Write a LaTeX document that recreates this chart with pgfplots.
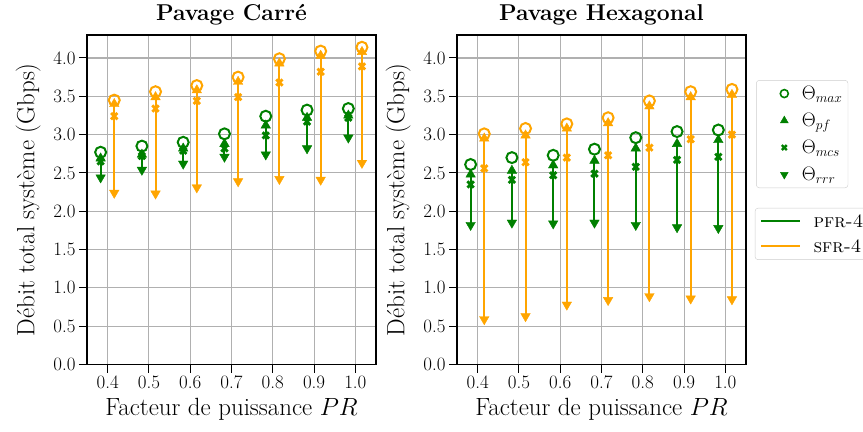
\documentclass[border=0pt]{standalone}
\usepackage{fix-cm}
\usepackage{pgfplots}
\pgfplotsset{compat=1.18}
\usepackage{pgfplotstable}
\definecolor{mgreen}{HTML}{008000}
\definecolor{morange}{HTML}{FFA500}
\definecolor{mgrid}{HTML}{B0B0B0}

\pgfplotstableread{
x   gmax gpf  gmcs grrr omax opf  omcs orrr
0.4 2.77 2.69 2.65 2.44 3.45 3.40 3.24 2.24
0.5 2.85 2.74 2.72 2.54 3.56 3.49 3.34 2.23
0.6 2.90 2.82 2.79 2.62 3.64 3.58 3.44 2.31
0.7 3.01 2.88 2.82 2.71 3.75 3.69 3.49 2.39
0.8 3.24 3.12 2.99 2.74 3.99 3.93 3.68 2.42
0.9 3.32 3.22 3.17 2.82 4.09 4.03 3.82 2.41
1.0 3.34 3.25 3.22 2.96 4.14 4.08 3.89 2.63
}\carre

\pgfplotstableread{
x   gmax gpf  gmcs grrr omax opf  omcs orrr
0.4 2.61 2.48 2.35 1.82 3.01 2.95 2.56 0.59
0.5 2.70 2.53 2.41 1.85 3.08 2.99 2.64 0.63
0.6 2.73 2.60 2.47 1.84 3.14 3.08 2.70 0.78
0.7 2.81 2.66 2.49 1.85 3.22 3.15 2.73 0.84
0.8 2.96 2.82 2.58 1.82 3.44 3.37 2.83 0.89
0.9 3.04 2.88 2.67 1.79 3.56 3.49 2.94 0.86
1.0 3.06 2.93 2.71 1.78 3.59 3.52 3.00 0.85
}\hexa

\pgfplotsset{
  mystyle/.style={
    scale only axis, width=289bp, height=329.5bp,
    xmin=0.35, xmax=1.05, ymin=0, ymax=4.3,
    xtick={0.4,0.5,0.6,0.7,0.8,0.9,1.0},
    xticklabels={0.4,0.5,0.6,0.7,0.8,0.9,1.0},
    ytick={0,0.5,1,1.5,2,2.5,3,3.5,4},
    yticklabels={0.0,0.5,1.0,1.5,2.0,2.5,3.0,3.5,4.0},
    xtick pos=bottom, ytick pos=left,
    grid=major, major grid style={mgrid, line width=1.1bp},
    tick align=outside, major tick length=8bp,
    tick style={black, line width=1bp},
    axis line style={line width=1.2bp},
    ticklabel style={font=\fontsize{19}{22}\selectfont},
    label style={font=\fontsize{25}{30}\selectfont},
    title style={font=\bfseries\fontsize{23}{27}\selectfont},
    xlabel={Facteur de puissance $PR$},
    ylabel={Débit total système (Gbps)},
    xlabel shift=2bp, ylabel shift=6bp,
    clip=false,
  },
  errstyle/.style={error bars/.cd, y dir=minus, y explicit, error mark=none,
    error bar style={line width=2bp, #1}},
  mmax/.style={only marks, mark=o, mark size=5.5bp, mark options={line width=2bp, #1}, forget plot},
  mpf/.style={only marks, mark=triangle*, mark size=5.5bp, mark options={#1}, forget plot},
  mmcs/.style={only marks, mark=x, mark size=4.5bp, mark options={line width=2.8bp, #1}, forget plot},
  mrrr/.style={only marks, mark=triangle*, mark size=5.5bp, mark options={rotate=180, #1}, forget plot},
}

\newcommand{\drawseries}[2]{%
  % green PFR-4
  \addplot[mgreen, only marks, mark=none, forget plot, errstyle=mgreen]
    table[x expr=\thisrow{x}-0.017, y=gpf, y error minus expr=\thisrow{gpf}-\thisrow{grrr}] {#1};
  \addplot[mgreen, mrrr=mgreen] table[x expr=\thisrow{x}-0.017, y=grrr] {#1};
  \addplot[mgreen, mpf=mgreen] table[x expr=\thisrow{x}-0.017, y=gpf] {#1};
  \addplot[mgreen, mmcs=mgreen] table[x expr=\thisrow{x}-0.017, y=gmcs] {#1};
  \addplot[mgreen, mmax=mgreen] table[x expr=\thisrow{x}-0.017, y=gmax] {#1};
  % orange SFR-4
  \addplot[morange, only marks, mark=none, forget plot, errstyle=morange]
    table[x expr=\thisrow{x}+0.016, y=opf, y error minus expr=\thisrow{opf}-\thisrow{orrr}] {#1};
  \addplot[morange, mrrr=morange] table[x expr=\thisrow{x}+0.016, y=orrr] {#1};
  \addplot[morange, mpf=morange] table[x expr=\thisrow{x}+0.016, y=opf] {#1};
  \addplot[morange, mmcs=morange] table[x expr=\thisrow{x}+0.016, y=omcs] {#1};
  \addplot[morange, mmax=morange] table[x expr=\thisrow{x}+0.016, y=omax] {#1};
}

\newcommand{\lstrut}{\rule[-6bp]{0pt}{20bp}}

\begin{document}
\begin{tikzpicture}
\useasboundingbox (0,0) rectangle (863bp,432bp);

\begin{axis}[mystyle, at={(87bp,67.5bp)}, anchor=south west,
  title={Pavage Carré},
  legend style={at={(2.311,0.475)}, anchor=north west,
    draw=black!20, rounded corners=3bp, fill=white,
    font=\fontsize{19}{22}\selectfont, row sep=4.5bp,
    inner xsep=2bp, inner ysep=3bp,
    nodes={inner sep=2.5bp}},
  legend cell align=left,
  legend image code/.code={\path[draw=none,fill=none] (0bp,0bp) -- (54bp,0bp); \draw[#1, line width=2bp] (4bp,0bp) -- (43bp,0bp);},
]
\drawseries{\carre}{}
\addlegendimage{mgreen}
\addlegendentry{\lstrut\textsc{pfr-4}}
\addlegendimage{morange}
\addlegendentry{\lstrut\textsc{sfr-4}}
\end{axis}

\begin{axis}[mystyle, at={(457bp,67.5bp)}, anchor=south west,
  title={Pavage Hexagonal},
  legend style={at={(1.035,0.863)}, anchor=north west,
    draw=black!20, rounded corners=3bp, fill=white,
    font=\fontsize{19.5}{23}\selectfont, row sep=6.5bp,
    inner xsep=3bp, inner ysep=3bp,
    nodes={inner sep=2.5bp}},
  legend cell align=left,
  legend image code/.code={\path[draw=none,fill=none] (0bp,0bp) -- (40bp,0bp); \draw[#1] plot coordinates {(25bp,0bp)};},
]
\drawseries{\hexa}{}
\addlegendimage{only marks, mark=o, mgreen, mark size=4bp, mark options={line width=1.6bp}}
\addlegendentry{\lstrut$\Theta_{max}$}
\addlegendimage{only marks, mark=triangle*, mgreen, mark size=4.5bp}
\addlegendentry{\lstrut$\Theta_{pf}$}
\addlegendimage{only marks, mark=x, mgreen, mark size=3.5bp, mark options={line width=2.4bp}}
\addlegendentry{\lstrut$\Theta_{mcs}$}
\addlegendimage{only marks, mark=triangle*, mgreen, mark size=4.5bp, mark options={rotate=180}}
\addlegendentry{\lstrut$\Theta_{rrr}$}
\end{axis}
\end{tikzpicture}
\end{document}
